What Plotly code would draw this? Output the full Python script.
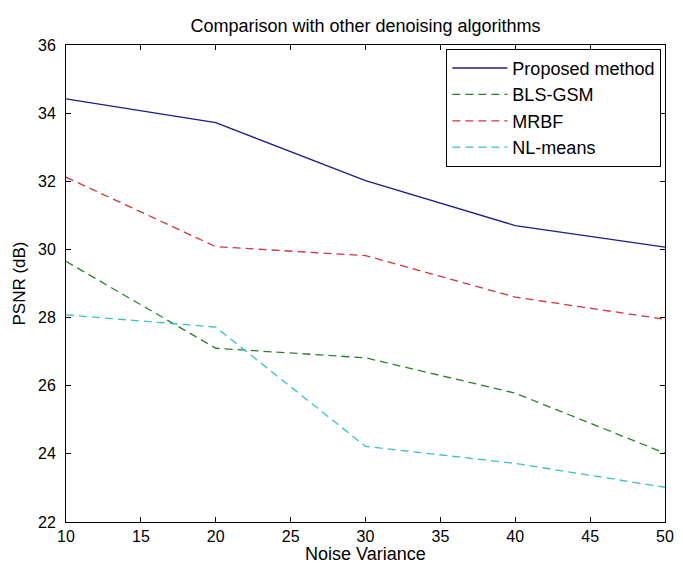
import plotly.graph_objects as go

noise_variance = [10, 20, 30, 40, 50]
proposed = [34.42, 33.72, 32.02, 30.70, 30.07]
bls_gsm = [29.65, 27.10, 26.82, 25.78, 24.02]
mrbf = [32.12, 30.08, 29.82, 28.60, 27.95]
nl_means = [28.08, 27.72, 24.22, 23.72, 23.02]

series = [
    ("Proposed method", proposed, "#1c1c8c", "solid"),
    ("BLS-GSM", bls_gsm, "#2f7d2f", "dash"),
    ("MRBF", mrbf, "#d2343c", "dash"),
    ("NL-means", nl_means, "#38c0cc", "dash"),
]

FONT = "Liberation Sans, Arial, sans-serif"

fig = go.Figure()
for i, (name, vals, color, dash) in enumerate(series):
    fig.add_trace(go.Scatter(
        x=noise_variance, y=vals, mode="lines", name=name,
        legendgroup=f"g{i}",
        line=dict(color=color, width=1.3, dash=dash if dash == "solid" else "8px,5px"),
    ))

axis_common = dict(
    showgrid=False, zeroline=False, showline=True, linecolor="#000000",
    linewidth=1, mirror="ticks", ticks="inside", ticklen=5, tickcolor="#000000",
)

fig.update_layout(
    width=675, height=558,
    margin=dict(l=58, r=9, t=37, b=44),
    paper_bgcolor="#ffffff", plot_bgcolor="#ffffff",
    title=dict(text="Comparison with other denoising algorithms",
               font=dict(family=FONT, size=18, color="#000000"),
               x=0.5, xref="paper", xanchor="center", y=0.968, yanchor="middle"),
    xaxis=dict(range=[10, 50], tickvals=[10, 15, 20, 25, 30, 35, 40, 45, 50],
               tickfont=dict(family=FONT, size=16, color="#000000"),
               ticklabelstandoff=0,
               **axis_common),
    yaxis=dict(range=[22, 36], tickvals=[22, 24, 26, 28, 30, 32, 34, 36],
               tickfont=dict(family=FONT, size=16, color="#000000"),
               title=dict(text="PSNR (dB)", font=dict(family=FONT, size=17, color="#000000"), standoff=8),
               ticklabelstandoff=6,
               **axis_common),
    legend=dict(x=0.635, y=0.992, xanchor="left", yanchor="top",
                bgcolor="#ffffff", bordercolor="#000000", borderwidth=1,
                font=dict(family=FONT, size=18, color="#000000"),
                tracegroupgap=0, itemwidth=55),
    showlegend=True,
    annotations=[dict(text="Noise Variance", xref="paper", yref="paper",
                      x=0.5, y=0, xanchor="center", yanchor="top", yshift=-20,
                      showarrow=False,
                      font=dict(family=FONT, size=18, color="#000000"))],
)

fig.write_html("out.html")
